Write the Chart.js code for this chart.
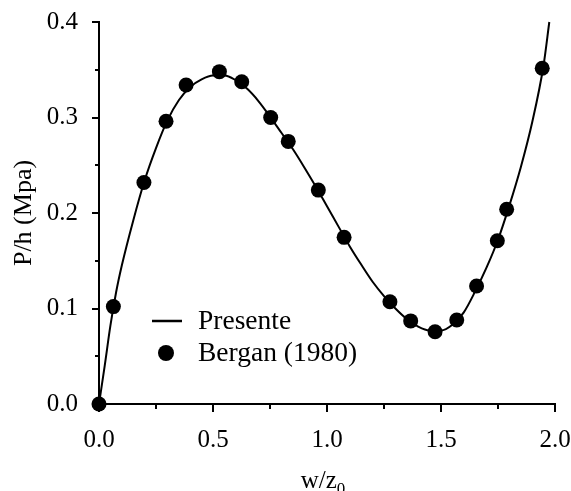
<!DOCTYPE html>
<html><head><meta charset="utf-8">
<script src="https://cdn.jsdelivr.net/npm/chart.js@4"></script>
<style>html,body{margin:0;padding:0;background:#fff}#wrap{width:571px;height:491px}</style>
</head><body><div id="wrap"><canvas id="c" width="571" height="491"></canvas></div>
<script>
// Presente (continuous curve)
const curveX = [0,0.025,0.05,0.075,0.1,0.15,0.2,0.25,0.3,0.35,0.4,0.45,0.5,0.55,0.6,0.65,0.7,0.75,0.8,0.85,0.9,0.95,1.0,1.05,1.1,1.15,1.2,1.25,1.3,1.35,1.4,1.45,1.5,1.55,1.6,1.65,1.7,1.75,1.8,1.85,1.9,1.95,1.975];
const curveY = [0,0.04,0.082,0.117,0.145,0.192,0.234,0.268,0.297,0.318,0.332,0.34,0.344,0.344,0.339,0.33,0.317,0.301,0.284,0.267,0.248,0.228,0.207,0.186,0.165,0.146,0.128,0.113,0.1,0.089,0.081,0.077,0.077,0.083,0.096,0.118,0.143,0.172,0.208,0.248,0.295,0.355,0.4];
// Bergan (1980)
const berganX = [0,0.063,0.197,0.294,0.382,0.528,0.626,0.753,0.830,0.962,1.075,1.276,1.367,1.474,1.569,1.656,1.747,1.788,1.944];
const berganY = [0,0.102,0.232,0.296,0.334,0.348,0.3375,0.300,0.275,0.224,0.1745,0.107,0.087,0.0757,0.088,0.1236,0.171,0.204,0.3515];
const xTicks = [0,0.5,1.0,1.5,2.0];
const xMinor = [0.25,0.75,1.25,1.75];
const yTicks = [0,0.1,0.2,0.3,0.4];
const yMinor = [0.05,0.15,0.25,0.35];
const seriesNames = ['Presente','Bergan (1980)'];
const xTitle = ['w/z','0'];
const yTitle = 'P/h (Mpa)';

const FF = '"Liberation Serif","Times New Roman",serif';

const extras = {
  id:'extras',
  afterDraw(chart){
    const ctx = chart.ctx, xs = chart.scales.x, ys = chart.scales.y;
    const ca = chart.chartArea;
    ctx.save();
    ctx.strokeStyle = '#000'; ctx.lineWidth = 2;
    // ticks
    const xt = (v,len)=>{const p=Math.round(xs.getPixelForValue(v)); ctx.beginPath(); ctx.moveTo(p,ca.bottom); ctx.lineTo(p,ca.bottom+len); ctx.stroke();};
    const yt = (v,len)=>{const p=Math.round(ys.getPixelForValue(v)); ctx.beginPath(); ctx.moveTo(ca.left,p); ctx.lineTo(ca.left-len,p); ctx.stroke();};
    xTicks.forEach(v=>xt(v,8)); xMinor.forEach(v=>xt(v,5));
    yTicks.forEach(v=>yt(v,7)); yMinor.forEach(v=>yt(v,4));
    // axis titles
    ctx.fillStyle = '#000';
    ctx.font = '25px ' + FF;
    ctx.textBaseline = 'alphabetic';
    const w1 = ctx.measureText(xTitle[0]).width;
    ctx.font = '17px ' + FF;
    const w2 = ctx.measureText(xTitle[1]).width;
    const cx = (ca.left + ca.right)/2 - 4;
    let sx = cx - (w1+w2)/2;
    ctx.font = '25px ' + FF; ctx.textAlign='left';
    ctx.fillText(xTitle[0], sx, 488);
    ctx.font = '17px ' + FF;
    ctx.fillText(xTitle[1], sx + w1, 494);
    ctx.save();
    ctx.translate(31, (ca.top+ca.bottom)/2);
    ctx.rotate(-Math.PI/2);
    ctx.font = '26px ' + FF; ctx.textAlign='center';
    ctx.fillText(yTitle, 0, 0);
    ctx.restore();
    // legend
    const d0 = chart.data.datasets[1], d1 = chart.data.datasets[0];
    ctx.strokeStyle = d0.borderColor; ctx.lineWidth = 2.5;
    ctx.beginPath(); ctx.moveTo(152,321); ctx.lineTo(182,321); ctx.stroke();
    ctx.fillStyle = d1.backgroundColor;
    ctx.beginPath(); ctx.arc(166,353,8,0,Math.PI*2); ctx.fill();
    ctx.fillStyle = '#000';
    ctx.font = '27.5px ' + FF; ctx.textAlign='left'; ctx.textBaseline='middle';
    ctx.fillText(d0.label, 198, 322);
    ctx.fillText(d1.label, 198, 354);
    ctx.restore();
  }
};

new Chart(document.getElementById('c'), {
  type:'scatter',
  data:{datasets:[
    {label:seriesNames[1], data:berganX.map((x,i)=>({x, y:berganY[i]})), showLine:false,
     pointRadius:7.5, pointHoverRadius:7.5, backgroundColor:'#000', borderColor:'#000', borderWidth:0, clip:false, order:0},
    {label:seriesNames[0], data:curveX.map((x,i)=>({x, y:curveY[i]})), showLine:true, pointRadius:0,
     borderColor:'#000', borderWidth:2, tension:0.4, cubicInterpolationMode:'monotone', fill:false, clip:false, order:1}
  ]},
  options:{
    responsive:false, animation:false, devicePixelRatio:1,
    layout:{padding:{left:0, right:16, top:22, bottom:0}},
    plugins:{legend:{display:false}, tooltip:{enabled:false}},
    scales:{
      x:{type:'linear', min:0, max:2,
        afterBuildTicks:s=>{s.ticks = xTicks.map(v=>({value:v}));},
        afterFit:s=>{s.height = 87; s.paddingLeft=0; s.paddingRight=0; s.paddingTop=0; s.paddingBottom=0;},
        ticks:{callback:v=>v.toFixed(1), color:'#000', font:{family:FF, size:25}, padding:21, maxRotation:0, autoSkip:false},
        grid:{display:false, drawTicks:false},
        border:{display:true, color:'#000', width:2}
      },
      y:{type:'linear', min:0, max:0.4,
        afterBuildTicks:s=>{s.ticks = yTicks.map(v=>({value:v}));},
        afterFit:s=>{s.width = 99; s.paddingLeft=0; s.paddingRight=0; s.paddingTop=0; s.paddingBottom=0;},
        ticks:{callback:v=>v.toFixed(1), color:'#000', font:{family:FF, size:25}, padding:21},
        grid:{display:false, drawTicks:false},
        border:{display:true, color:'#000', width:2}
      }
    }
  },
  plugins:[extras]
});
</script></body></html>
